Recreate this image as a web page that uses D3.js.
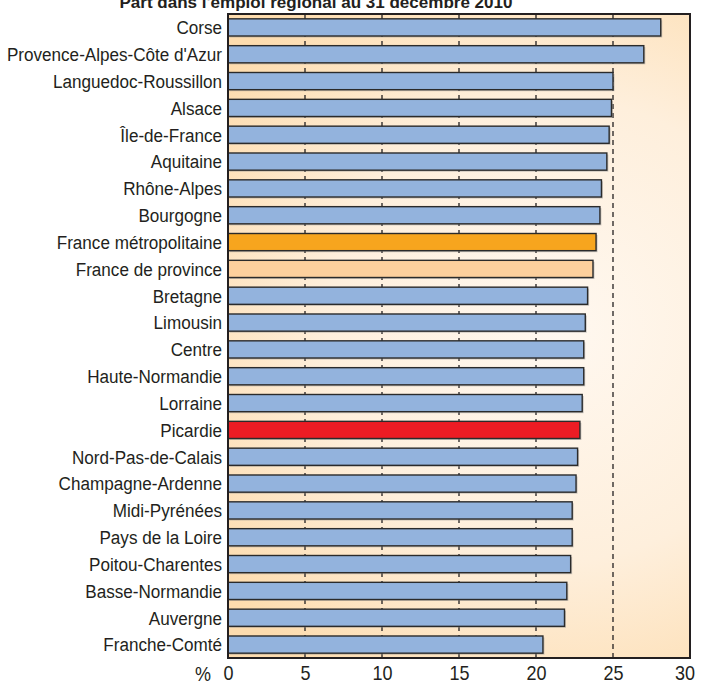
<!DOCTYPE html>
<html>
<head>
<meta charset="utf-8">
<script src="https://cdn.jsdelivr.net/npm/d3@7"></script>
<style>
  body { margin: 0; background: #fff; }
  text { font-family: "Liberation Sans", Arial, sans-serif; fill: #231f20; }
</style>
</head>
<body>
<svg id="canvas"></svg>
<script>
// régions, de la plus forte à la plus faible part
let regions = ['Corse', 'Provence-Alpes-Côte d\'Azur', 'Languedoc-Roussillon', 'Alsace', 'Île-de-France',
  'Aquitaine', 'Rhône-Alpes', 'Bourgogne', 'France métropolitaine', 'France de province', 'Bretagne',
  'Limousin', 'Centre', 'Haute-Normandie', 'Lorraine', 'Picardie', 'Nord-Pas-de-Calais',
  'Champagne-Ardenne', 'Midi-Pyrénées', 'Pays de la Loire', 'Poitou-Charentes', 'Basse-Normandie',
  'Auvergne', 'Franche-Comté']
let values = [28.1, 27.0, 25.0, 24.9, 24.75, 24.6, 24.25, 24.15, 23.9, 23.7, 23.35, 23.2, 23.1,
  23.1, 23.0, 22.85, 22.7, 22.6, 22.35, 22.35, 22.25, 22.0, 21.85, 20.45]
let ticks = [0, 5, 10, 15, 20, 25, 30]
let title = 'Part dans l\'emploi régional au 31 décembre 2010'

let width = 714
let height = 684
let plotLeft = 228
let plotRight = 690
let plotTop = 14
let plotBottom = 658
let squeeze = 0.9 // police étroite

let svg = d3.select('#canvas').attr('width', width).attr('height', height)

let xScale = d3.scaleLinear().domain([0, 30]).range([plotLeft, plotRight])
let yScale = d3.scaleBand().domain(regions).range([plotTop, plotBottom]).paddingInner(0.36).paddingOuter(0.18)

let barColor = (name) => {
  if (name === 'France métropolitaine') return '#f7a51e'
  if (name === 'France de province') return '#fdd09d'
  if (name === 'Picardie') return '#ec1c24'
  return '#93b3dd'
}

// fond dégradé
let defs = svg.append('defs')
let grad = defs.append('radialGradient').attr('id', 'bg')
  .attr('gradientUnits', 'userSpaceOnUse')
  .attr('cx', 560).attr('cy', 330).attr('r', 420)
grad.append('stop').attr('offset', '0%').attr('stop-color', '#fff8f0')
grad.append('stop').attr('offset', '55%').attr('stop-color', '#feefdc')
grad.append('stop').attr('offset', '100%').attr('stop-color', '#fddcae')

svg.append('rect')
  .attr('x', plotLeft).attr('y', plotTop)
  .attr('width', plotRight - plotLeft).attr('height', plotBottom - plotTop)
  .attr('fill', 'url(#bg)')

// lignes de grille pointillées
svg.selectAll('.grid')
  .data(ticks.filter(t => t > 0 && t < 30))
  .enter()
  .append('line')
  .attr('class', 'grid')
  .attr('x1', d => xScale(d)).attr('x2', d => xScale(d))
  .attr('y1', plotTop).attr('y2', plotBottom)
  .attr('stroke', '#231f20')
  .attr('stroke-width', 1.3)
  .attr('stroke-dasharray', '5,4')

// ombre des barres
svg.selectAll('.shadow')
  .data(values)
  .enter()
  .append('rect')
  .attr('class', 'shadow')
  .attr('x', xScale(0) + 1.5)
  .attr('y', (d, i) => yScale(regions[i]) + 1.5)
  .attr('width', d => xScale(d) - xScale(0))
  .attr('height', yScale.bandwidth())
  .attr('fill', '#8a8a8a')
  .attr('opacity', 0.45)

svg.selectAll('.bar')
  .data(values)
  .enter()
  .append('rect')
  .attr('class', 'bar')
  .attr('x', xScale(0))
  .attr('y', (d, i) => yScale(regions[i]))
  .attr('width', d => xScale(d) - xScale(0))
  .attr('height', yScale.bandwidth())
  .attr('fill', (d, i) => barColor(regions[i]))
  .attr('stroke', '#2b2b2b')
  .attr('stroke-width', 1.4)

// cadre
svg.append('rect')
  .attr('x', plotLeft).attr('y', plotTop)
  .attr('width', plotRight - plotLeft).attr('height', plotBottom - plotTop)
  .attr('fill', 'none')
  .attr('stroke', '#231f20')
  .attr('stroke-width', 2)

// libellés des régions
svg.selectAll('.label')
  .data(regions)
  .enter()
  .append('text')
  .attr('class', 'label')
  .attr('transform', d => 'translate(' + (plotLeft - 6) + ',' + (yScale(d) + yScale.bandwidth() / 2) + ') scale(' + squeeze + ',1)')
  .attr('dy', '0.36em')
  .attr('text-anchor', 'end')
  .style('font-size', '19px')
  .text(d => d)

// axe
let xAxis = d3.axisBottom(xScale).tickValues(ticks).tickSize(0).tickFormat(d3.format('d'))
let gx = svg.append('g')
  .attr('id', 'x-axis')
  .attr('transform', 'translate(0, ' + (plotBottom + 6) + ')')
  .call(xAxis)
gx.select('.domain').remove()
gx.selectAll('text')
  .attr('y', 0)
  .attr('dy', '0.8em')
  .attr('transform', 'scale(' + squeeze + ',1)')
  .style('font-size', '20px')
  .style('font-family', '"Liberation Sans", Arial, sans-serif')
  .attr('fill', '#231f20')
gx.selectAll('.tick:last-of-type text').attr('dx', -6)

svg.append('text')
  .attr('transform', 'translate(203,' + (plotBottom + 23) + ') scale(' + squeeze + ',1)')
  .attr('text-anchor', 'middle')
  .style('font-size', '20px')
  .text('%')

svg.append('text')
  .attr('x', 316).attr('y', 8)
  .attr('text-anchor', 'middle')
  .attr('textLength', 393)
  .attr('lengthAdjust', 'spacingAndGlyphs')
  .style('font-size', '17px')
  .style('font-weight', 'bold')
  .text(title)
</script>
</body>
</html>
